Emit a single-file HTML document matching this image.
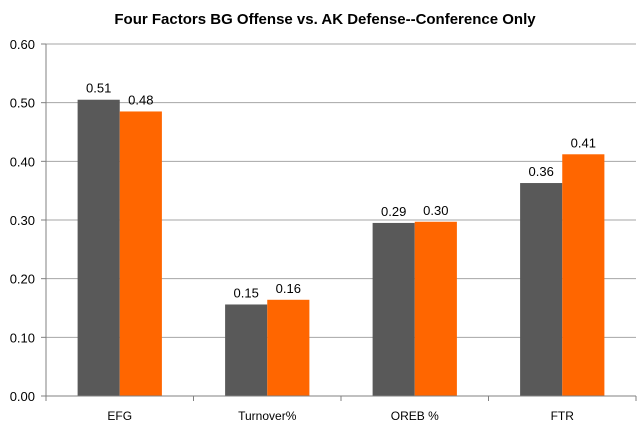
<!DOCTYPE html>
<html><head><meta charset="utf-8"><style>
html,body{margin:0;padding:0;background:#fff;width:640px;height:428px;overflow:hidden}
text{font-family:"Liberation Sans",sans-serif}
</style></head><body>
<svg id="chart" width="640" height="428" xmlns="http://www.w3.org/2000/svg">
<text x="325" y="24" text-anchor="middle" font-size="15" font-weight="bold" fill="#000">Four Factors BG Offense vs. AK Defense--Conference Only</text>
<g id="grid"></g><g id="bars"></g><g id="axes"></g>
</svg>
<script>
const categories=["EFG","Turnover%","OREB %","FTR"];
const bgOffense=[0.505,0.156,0.295,0.363];
const akDefense=[0.485,0.164,0.297,0.412];
const bgLabels=["0.51","0.15","0.29","0.36"];
const akLabels=["0.48","0.16","0.30","0.41"];
const yTicks=[0,0.1,0.2,0.3,0.4,0.5,0.6];
const yTickLabels=["0.00","0.10","0.20","0.30","0.40","0.50","0.60"];
const NS="http://www.w3.org/2000/svg";
const L=46,R=636,B=396,T=44,yMax=0.6;
const y=v=>B-(v/yMax)*(B-T);
const cw=(R-L)/categories.length;
const x=i=>L+cw*i;
const bw=cw/3.5;
function mk(tag,attrs,parent){const e=document.createElementNS(NS,tag);for(const k in attrs)e.setAttribute(k,attrs[k]);document.getElementById(parent).appendChild(e);return e;}
yTicks.forEach((t,i)=>{
  if(t>0){const g=mk('line',{x1:L,x2:R,y1:y(t),y2:y(t),stroke:'#a6a6a6','stroke-width':1},'grid');
  
  }
  const tk=mk('line',{x1:L-5,x2:L,y1:y(t),y2:y(t),stroke:'#808080'},'axes');
  
  
  const lb=mk('text',{x:L-11,y:y(t)+5,'text-anchor':'end','font-size':13,fill:'#000'},'axes');
  
  
  lb.textContent=yTickLabels[i];
});
const ya=mk('line',{x1:L,x2:L,y1:T,y2:B,stroke:'#808080'},'axes');


const xa=mk('line',{x1:L,x2:R,y1:B,y2:B,stroke:'#808080'},'axes');


for(let i=0;i<=categories.length;i++){
  const tk=mk('line',{x1:x(i),x2:x(i),y1:B,y2:B+5,stroke:'#808080'},'axes');
  
  
}
categories.forEach((c,i)=>{
  const cx=x(i)+cw/2;
  const lb=mk('text',{x:cx,y:B+24,'text-anchor':'middle','font-size':12,fill:'#000'},'axes');
  
  
  lb.textContent=c;
  [[bgOffense,bgLabels,'#595959',cx-bw,'bg-offense'],[akDefense,akLabels,'#ff6600',cx,'ak-defense']].forEach(s=>{
    const v=s[0][i];
    const r=mk('rect',{x:s[3],y:y(v),width:bw,height:B-y(v),fill:s[2]},'bars');
    
    
    const t=mk('text',{x:s[3]+bw/2,y:y(v)-7,'text-anchor':'middle','font-size':13,fill:'#000'},'bars');
    
    
    t.textContent=s[1][i];
  });
});
</script>
</body></html>
